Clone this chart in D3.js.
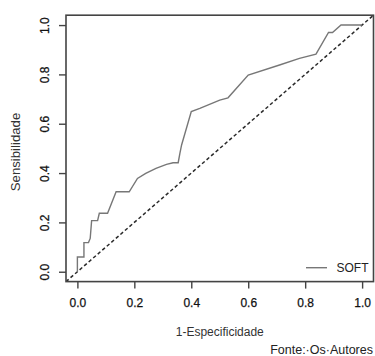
<!DOCTYPE html>
<html>
<head>
<meta charset="utf-8">
<script src="https://cdn.jsdelivr.net/npm/d3@7"></script>
<style>
  body { margin: 0; background: #fff; }
  svg { display: block; font-family: "Liberation Sans", Arial, sans-serif; }
</style>
</head>
<body>
<div id="chart"></div>
<script>
// ROC curve
const fpr = [0, 0, 0.023, 0.023, 0.039, 0.045, 0.05, 0.071, 0.077, 0.106, 0.136, 0.182, 0.211, 0.24, 0.276,
  0.313, 0.336, 0.354, 0.36, 0.366, 0.40, 0.43, 0.50, 0.529, 0.60, 0.71, 0.78, 0.838, 0.882, 0.896, 0.926, 1.0];
const tpr = [0, 0.06, 0.06, 0.118, 0.118, 0.135, 0.207, 0.207, 0.237, 0.237, 0.324, 0.324, 0.378, 0.399, 0.419,
  0.435, 0.442, 0.442, 0.48, 0.514, 0.649, 0.662, 0.696, 0.705, 0.797, 0.838, 0.865, 0.882, 0.97, 0.97, 1.0, 1.0];
const ticks = [0, 0.2, 0.4, 0.6, 0.8, 1.0];
const seriesName = 'SOFT';
const xTitle = '1-Especificidade';
const yTitle = 'Sensibilidade';
const source = 'Fonte:·Os·Autores';

const width = 375, height = 356;
const svg = d3.select('#chart').append('svg')
  .attr('width', width)
  .attr('height', height);

// R style: axis range padded 4% on each side
const x = d3.scaleLinear().domain([-0.04, 1.04]).range([66, 373.5]);
const y = d3.scaleLinear().domain([-0.04, 1.04]).range([281.6, 15.2]);

const points = fpr.map((f, i) => [f, tpr[i]]);

svg.append('clipPath').attr('id', 'plotclip')
  .append('rect')
  .attr('x', x(-0.04)).attr('y', y(1.04))
  .attr('width', x(1.04) - x(-0.04))
  .attr('height', y(-0.04) - y(1.04));

// diagonal reference
svg.append('line')
  .attr('clip-path', 'url(#plotclip)')
  .attr('x1', x(-0.04)).attr('y1', y(-0.04))
  .attr('x2', x(1.04)).attr('y2', y(1.04))
  .attr('stroke', '#2a2a2a')
  .attr('stroke-width', 1.5)
  .attr('stroke-dasharray', '3.5,2.5');

// ROC curve
svg.append('path')
  .datum(points)
  .attr('fill', 'none')
  .attr('stroke', '#777')
  .attr('stroke-width', 1.4)
  .attr('d', d3.line().x(d => x(d[0])).y(d => y(d[1])));

// box
svg.append('rect')
  .attr('x', x(-0.04)).attr('y', y(1.04))
  .attr('width', x(1.04) - x(-0.04))
  .attr('height', y(-0.04) - y(1.04))
  .attr('fill', 'none')
  .attr('stroke', '#444')
  .attr('stroke-width', 1.6);

// x axis
const xAxis = svg.append('g')
  .attr('transform', `translate(0,${y(-0.04)})`)
  .call(d3.axisBottom(x).tickValues(ticks).tickFormat(d3.format('.1f')).tickSize(7).tickPadding(10));
xAxis.select('.domain').remove();
xAxis.selectAll('line').attr('stroke', '#444').attr('stroke-width', 1.4);
xAxis.selectAll('text').attr('font-size', 12).attr('fill', '#111')
  .attr('stroke', '#111').attr('stroke-width', 0.25)
  .attr('font-family', '"Liberation Sans", Arial, sans-serif');

// y axis, labels rotated like R's las=0
const yAxis = svg.append('g')
  .attr('transform', `translate(${x(-0.04)},0)`)
  .call(d3.axisLeft(y).tickValues(ticks).tickFormat(d3.format('.1f')).tickSize(7));
yAxis.select('.domain').remove();
yAxis.selectAll('line').attr('stroke', '#444').attr('stroke-width', 1.4);
yAxis.selectAll('text')
  .attr('x', null).attr('dy', null)
  .attr('transform', 'translate(-17.5,0) rotate(-90)')
  .attr('text-anchor', 'middle')
  .attr('font-size', 12).attr('fill', '#111')
  .attr('stroke', '#111').attr('stroke-width', 0.25)
  .attr('font-family', '"Liberation Sans", Arial, sans-serif');

// titles
svg.append('text')
  .attr('x', (x(-0.04) + x(1.04)) / 2).attr('y', 336)
  .attr('text-anchor', 'middle')
  .attr('font-size', 12).attr('fill', '#333')
  .text(xTitle);

svg.append('text')
  .attr('transform', 'translate(19.5,152) rotate(-90)')
  .attr('text-anchor', 'middle')
  .attr('font-size', 13.2).attr('fill', '#333')
  .text(yTitle);

// legend
svg.append('line')
  .attr('x1', 306).attr('x2', 327)
  .attr('y1', 267.7).attr('y2', 267.7)
  .attr('stroke', '#777').attr('stroke-width', 1.4);
svg.append('text')
  .attr('x', 336.5).attr('y', 272.3)
  .attr('font-size', 12).attr('fill', '#222')
  .text(seriesName);

// source note
svg.append('text')
  .attr('x', 373).attr('y', 354)
  .attr('text-anchor', 'end')
  .attr('font-size', 12.5).attr('fill', '#222')
  .text(source);
</script>
</body>
</html>
